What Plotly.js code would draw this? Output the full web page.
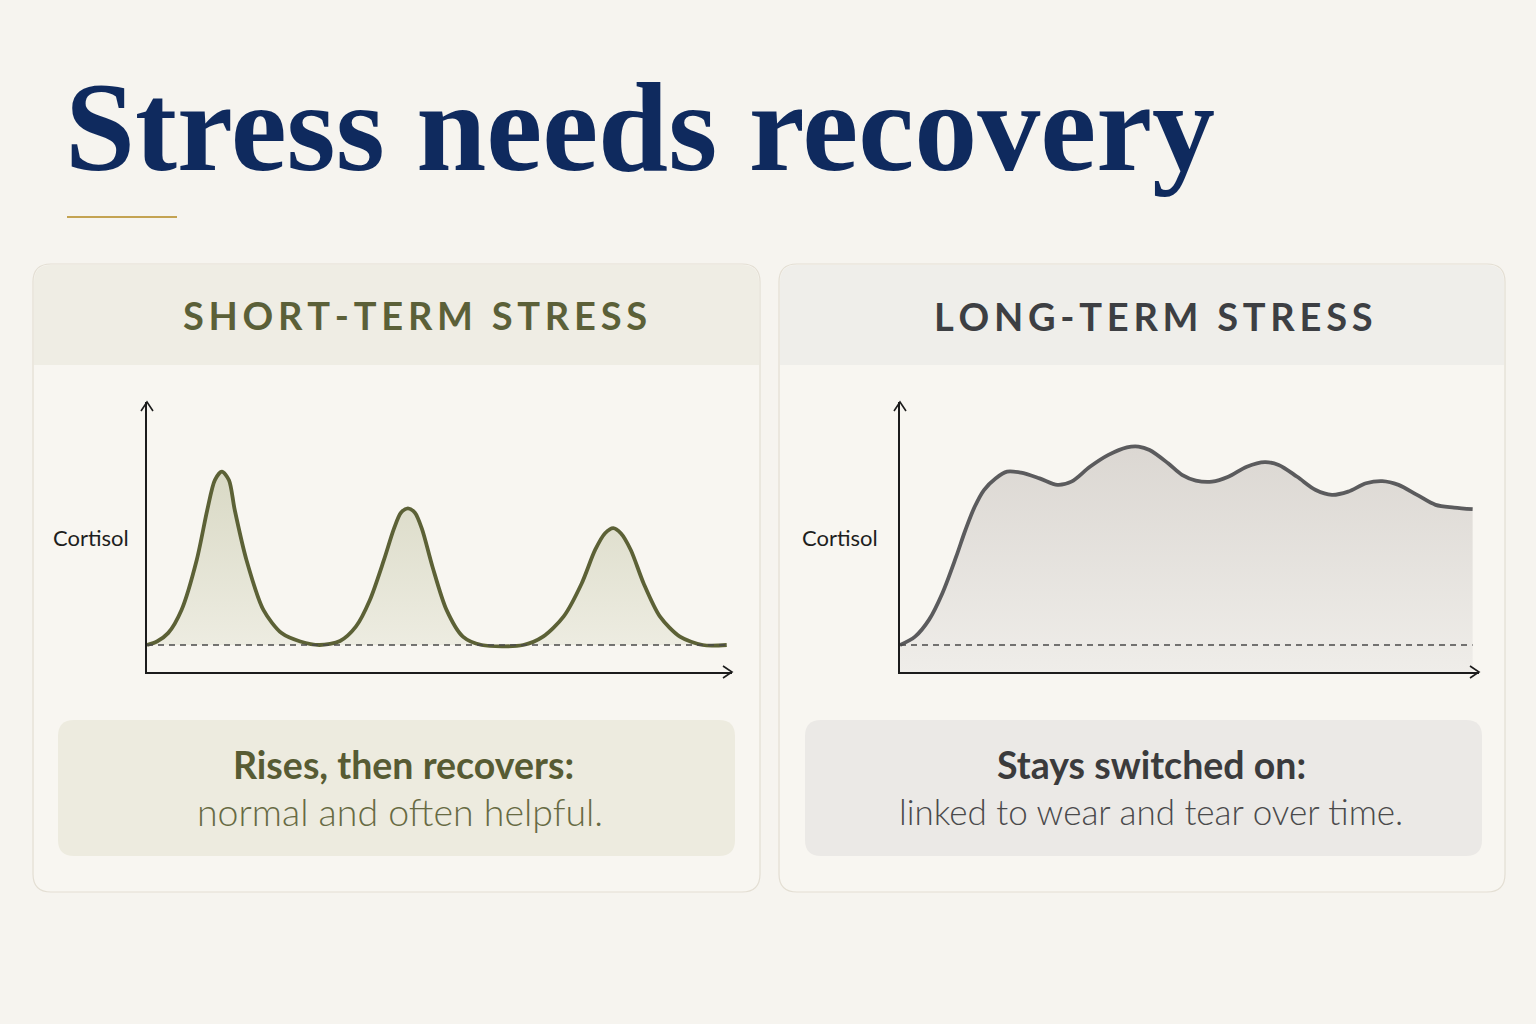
<!DOCTYPE html>
<html>
<head>
<meta charset="utf-8">
<script src="https://cdn.plot.ly/plotly-3.0.1.min.js"></script>
<style>
  html, body {margin: 0; padding: 0; background: #f6f4ef;}
  #graph {width: 1536px; height: 1024px;}
</style>
</head>
<body>
<div id="graph"></div>
<script>
//data (time 0-100, cortisol 0-100)
const baselineLevel = 10

const shortTime = [0, 1.7, 3.6, 5.9, 8.5, 10.3, 11.6, 12.8, 14.0, 15.0, 17.0, 19.9, 23.0, 26.2, 29.5,
  33.0, 35.7, 38.1, 40.5, 42.2, 43.4, 44.6, 45.8, 47.0, 48.8, 51.2, 54.0, 57.2,
  64.3, 67.7, 71.2, 74.3, 76.6, 78.3, 79.7, 81.0, 82.7, 84.9, 87.7, 91.1, 95.0, 99.1]
const shortCortisol = [10, 11.3, 14.4, 23.0, 41.5, 60.0, 71.1, 74.2, 71.1, 60.0, 41.5, 23.0, 14.4, 11.3, 10,
  11.5, 16.8, 26.7, 41.5, 53.0, 59.0, 60.6, 59.0, 53.0, 39.0, 23.0, 13.1, 10,
  10, 13.1, 20.5, 32.8, 45.2, 51.4, 53.3, 51.4, 45.2, 32.8, 20.5, 13.1, 10, 10]

const longTime = [0, 2.6, 5.0, 7.3, 9.7, 11.3, 12.9, 14.5, 16.5, 18.5, 20.9, 24.1, 27.2, 29.6,
  32.8, 36.0, 39.2, 41.2, 43.1, 46.3, 48.7, 51.1, 53.9, 56.7, 59.9, 63.0, 65.4,
  68.6, 71.8, 74.6, 77.4, 80.5, 83.3, 86.1, 89.3, 92.5, 95.7, 98.9]
const longCortisol = [10, 13.1, 19.3, 29.1, 42.7, 52.6, 61.2, 67.4, 71.7, 74.2, 73.8, 71.7, 69.3, 70.5,
  76.0, 80.4, 83.2, 83.5, 82.2, 77.3, 73.0, 70.9, 70.5, 72.3, 76.0, 77.7, 76.7,
  72.3, 67.4, 65.6, 66.8, 69.9, 70.7, 69.3, 65.6, 61.9, 60.9, 60.3]

const pageTitle = 'Stress needs recovery'
const panelTitles = ['SHORT-TERM STRESS', 'LONG-TERM STRESS']
const axisLabel = 'Cortisol'
const boxHeads = ['Rises, then recovers:', 'Stays switched on:']
const boxLines = ['normal and often helpful.', 'linked to wear and tear over time.']

//page size and pixel -> paper helpers
const W = 1536, H = 1024
const X = p => p / W
const Y = p => 1 - p / H

//rounded rectangle path in paper coords (top/bottom radius separately)
function roundRect(x0, y0, x1, y1, rt, rb) {
  return `M ${X(x0 + rt)},${Y(y0)} L ${X(x1 - rt)},${Y(y0)} Q ${X(x1)},${Y(y0)} ${X(x1)},${Y(y0 + rt)} ` +
    `L ${X(x1)},${Y(y1 - rb)} Q ${X(x1)},${Y(y1)} ${X(x1 - rb)},${Y(y1)} ` +
    `L ${X(x0 + rb)},${Y(y1)} Q ${X(x0)},${Y(y1)} ${X(x0)},${Y(y1 - rb)} ` +
    `L ${X(x0)},${Y(y0 + rt)} Q ${X(x0)},${Y(y0)} ${X(x0 + rt)},${Y(y0)} Z`
}

//letter-spaced caps for the panel headers
const spaced = s => s.split('').join('\u2009')

//traces
const shortBase = {
  x: [shortTime[0], shortTime[shortTime.length - 1]],
  y: [baselineLevel, baselineLevel],
  mode: 'lines', line: {width: 0}, hoverinfo: 'skip', showlegend: false,
  xaxis: 'x', yaxis: 'y'
}
const shortCurve = {
  x: shortTime, y: shortCortisol,
  mode: 'lines', line: {color: '#5c6136', width: 3.8, shape: 'spline', smoothing: 0.8},
  fill: 'tonexty',
  fillgradient: {type: 'vertical', start: baselineLevel, stop: 75,
    colorscale: [[0, '#edece1'], [1, '#d9d9c5']]},
  showlegend: false, xaxis: 'x', yaxis: 'y'
}
const shortDash = {
  x: [shortTime[0], shortTime[shortTime.length - 1]],
  y: [baselineLevel, baselineLevel],
  mode: 'lines', line: {color: '#4a4a4a', width: 1.3, dash: '6px,5px'},
  showlegend: false, xaxis: 'x', yaxis: 'y'
}
const longCurve = {
  x: longTime, y: longCortisol,
  mode: 'lines', line: {color: '#5b5b5d', width: 3.8, shape: 'spline', smoothing: 0.9},
  fill: 'tozeroy',
  fillgradient: {type: 'vertical', start: 0, stop: 84,
    colorscale: [[0, '#efede9'], [1, '#dbd7d2']]},
  showlegend: false, xaxis: 'x2', yaxis: 'y2'
}
const longDash = {
  x: [longTime[0], longTime[longTime.length - 1]],
  y: [baselineLevel, baselineLevel],
  mode: 'lines', line: {color: '#4a4a4a', width: 1.3, dash: '6px,5px'},
  showlegend: false, xaxis: 'x2', yaxis: 'y2'
}

//axes
const axisCommon = {
  range: [0, 100], showgrid: false, zeroline: false, showticklabels: false,
  ticks: '', showline: true, linecolor: '#1c1c1c', linewidth: 1.6, fixedrange: true
}
const xDomL = [X(147), X(732)], xDomR = [X(900), X(1479)]
const yDom = [Y(672), Y(402)]

//panels and decorations
const shapes = [
  //panel bodies
  {type: 'path', path: roundRect(33, 264, 760, 892, 18, 18), fillcolor: '#f8f6f1',
    line: {color: '#e3ded3', width: 1.2}, layer: 'below'},
  {type: 'path', path: roundRect(779, 264, 1505, 892, 18, 18), fillcolor: '#f8f6f1',
    line: {color: '#e3ded3', width: 1.2}, layer: 'below'},
  //header bands
  {type: 'path', path: roundRect(34, 265, 759, 365, 17, 0), fillcolor: '#efede4',
    line: {width: 0}, layer: 'below'},
  {type: 'path', path: roundRect(780, 265, 1504, 365, 17, 0), fillcolor: '#efeeea',
    line: {width: 0}, layer: 'below'},
  //caption boxes
  {type: 'path', path: roundRect(58, 720, 735, 856, 16, 16), fillcolor: '#edebdf',
    line: {width: 0}, layer: 'below'},
  {type: 'path', path: roundRect(805, 720, 1482, 856, 16, 16), fillcolor: '#ebe9e6',
    line: {width: 0}, layer: 'below'},
  //gold rule under title
  {type: 'line', x0: X(67), x1: X(177), y0: Y(217), y1: Y(217),
    line: {color: '#c4a352', width: 2}},
  //arrow heads
  {type: 'path', path: `M ${X(141)},${Y(411)} L ${X(147)},${Y(402)} L ${X(153)},${Y(411)}`,
    line: {color: '#1c1c1c', width: 1.6}},
  {type: 'path', path: `M ${X(723)},${Y(666)} L ${X(732)},${Y(672)} L ${X(723)},${Y(678)}`,
    line: {color: '#1c1c1c', width: 1.6}},
  {type: 'path', path: `M ${X(894)},${Y(411)} L ${X(900)},${Y(402)} L ${X(906)},${Y(411)}`,
    line: {color: '#1c1c1c', width: 1.6}},
  {type: 'path', path: `M ${X(1470)},${Y(666)} L ${X(1479)},${Y(672)} L ${X(1470)},${Y(678)}`,
    line: {color: '#1c1c1c', width: 1.6}}
].map(s => ({xref: 'paper', yref: 'paper', ...s}))

const sans = 'Lato, "Open Sans", sans-serif'
const annotations = [
  {text: pageTitle, x: X(63), y: Y(127), xanchor: 'left', yanchor: 'middle',
    font: {family: '"Liberation Serif", "DejaVu Serif", serif', size: 126, weight: 700, color: '#0f2a5e'}},
  {text: spaced(panelTitles[0]), x: X(415), y: Y(315), xanchor: 'center', yanchor: 'middle',
    font: {family: sans, size: 38, weight: 700, color: '#5b6038'}},
  {text: spaced(panelTitles[1]), x: X(1153), y: Y(316), xanchor: 'center', yanchor: 'middle',
    font: {family: sans, size: 38, weight: 700, color: '#3d3f43'}},
  {text: axisLabel, x: X(131), y: Y(537), xanchor: 'right', yanchor: 'middle',
    font: {family: sans, size: 22, color: '#1e1e1e'}},
  {text: axisLabel, x: X(880), y: Y(537), xanchor: 'right', yanchor: 'middle',
    font: {family: sans, size: 22, color: '#1e1e1e'}},
  {text: boxHeads[0], x: X(403), y: Y(764), xanchor: 'center', yanchor: 'middle',
    font: {family: sans, size: 37.5, weight: 700, color: '#575b33'}},
  {text: boxLines[0], x: X(400), y: Y(811), xanchor: 'center', yanchor: 'middle',
    font: {family: sans, size: 37.5, weight: 300, color: '#676a43'}},
  {text: boxHeads[1], x: X(1151), y: Y(764), xanchor: 'center', yanchor: 'middle',
    font: {family: sans, size: 37.5, weight: 700, color: '#3b3b3c'}},
  {text: boxLines[1], x: X(1151), y: Y(811), xanchor: 'center', yanchor: 'middle',
    font: {family: sans, size: 35, weight: 300, color: '#4a4a4b'}}
].map(a => ({xref: 'paper', yref: 'paper', showarrow: false, ...a}))

const layout = {
  width: W, height: H,
  margin: {l: 0, r: 0, t: 0, b: 0, pad: 0},
  paper_bgcolor: '#f6f4ef',
  plot_bgcolor: 'rgba(0,0,0,0)',
  showlegend: false,
  xaxis: {...axisCommon, domain: xDomL, anchor: 'y'},
  yaxis: {...axisCommon, domain: yDom, anchor: 'x'},
  xaxis2: {...axisCommon, domain: xDomR, anchor: 'y2'},
  yaxis2: {...axisCommon, domain: yDom, anchor: 'x2'},
  shapes: shapes,
  annotations: annotations
}

const config = {displayModeBar: false, staticPlot: true}

Plotly.newPlot(document.getElementById('graph'),
  [shortBase, shortCurve, shortDash, longCurve, longDash], layout, config)
</script>
</body>
</html>
